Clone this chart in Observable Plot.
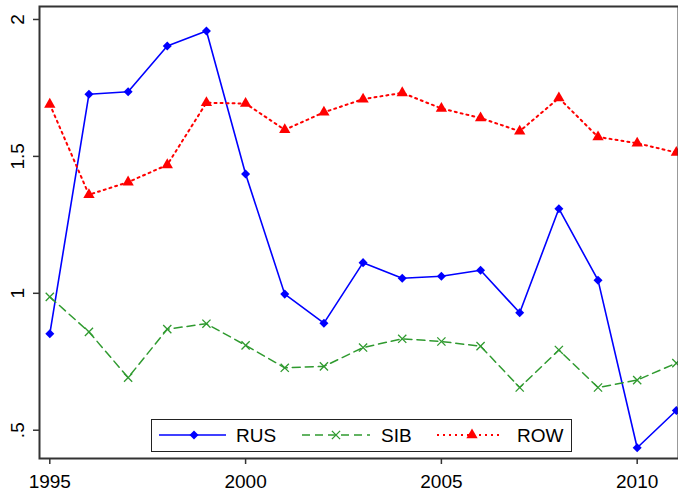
<!DOCTYPE html>
<html>
<head>
<meta charset="utf-8">
<script src="https://cdn.jsdelivr.net/npm/d3@7"></script>
<script src="https://cdn.jsdelivr.net/npm/@observablehq/plot@0.6"></script>
<style>
  html, body { margin: 0; padding: 0; background: #fff; }
  #wrap { position: relative; width: 678px; height: 493px; overflow: hidden; font-family: "Liberation Sans", Arial, sans-serif; }
  #legend { position: absolute; left: 151px; top: 419px; width: 421px; height: 33px; box-sizing: border-box; border: 1.5px solid #222; background: #fff; }
</style>
</head>
<body>
<div id="wrap"><div id="legend"></div></div>
<script>
const years = [1995,1996,1997,1998,1999,2000,2001,2002,2003,2004,2005,2006,2007,2008,2009,2010,2011];
const rus = [0.852,1.727,1.736,1.903,1.958,1.436,0.997,0.891,1.112,1.055,1.062,1.084,0.929,1.309,1.048,0.436,0.572];
const sib = [0.987,0.859,0.692,0.869,0.889,0.810,0.728,0.733,0.802,0.834,0.824,0.807,0.656,0.793,0.656,0.683,0.745];
const row = [1.690,1.360,1.406,1.469,1.696,1.693,1.597,1.661,1.709,1.732,1.675,1.640,1.592,1.713,1.571,1.548,1.514];
const seriesNames = ["RUS", "SIB", "ROW"];
const xTicks = [1995, 2000, 2005, 2010];
const yTicks = [0.5, 1, 1.5, 2];
const yTickLabels = [".5", "1", "1.5", "2"];

const colors = {RUS: "#0000ff", SIB: "#2f9a2f", ROW: "#ff0000"};
const dashes = {RUS: null, SIB: "8,5", ROW: "2,4"};
const widths = {RUS: 1.6, SIB: 1.5, ROW: 2};

// square diamond symbol
const diamondSq = {draw(ctx, size) { const r = Math.sqrt(size / 2); ctx.moveTo(0, -r); ctx.lineTo(r, 0); ctx.lineTo(0, r); ctx.lineTo(-r, 0); ctx.closePath(); }};
const symbols = {RUS: diamondSq, SIB: d3.symbolTimes, ROW: d3.symbolTriangle};
const radii = {RUS: 3.6, SIB: 3.8, ROW: 4.2};

const values = {RUS: rus, SIB: sib, ROW: row};
const data = seriesNames.map(s => years.map((y, i) => ({series: s, year: y, value: values[s][i]})));

const marks = [];
data.forEach(arr => {
  const s = arr[0].series;
  marks.push(Plot.line(arr, {x: "year", y: "value", stroke: colors[s], strokeWidth: widths[s], strokeDasharray: dashes[s]}));
});
data.forEach(arr => {
  const s = arr[0].series;
  if (s === "SIB") {
    marks.push(Plot.dot(arr, {x: "year", y: "value", symbol: symbols[s], r: radii[s], stroke: colors[s], strokeWidth: 1.3}));
  } else {
    marks.push(Plot.dot(arr, {x: "year", y: "value", symbol: symbols[s], r: radii[s], fill: colors[s], stroke: "none"}));
  }
});

const chart = Plot.plot({
  width: 678, height: 493,
  marginLeft: 39, marginRight: 0, marginTop: 6, marginBottom: 35,
  style: {fontFamily: "'Liberation Sans', Arial, sans-serif", fontSize: "19px", background: "#fff", color: "#000"},
  x: {domain: [1994.737, 2011.055]},
  y: {domain: [0.3967, 2.0474]},
  marks: [
    Plot.axisX({ticks: xTicks, tickSize: 6, tickPadding: 10, tickFormat: d => String(d), label: null, fontSize: 19, stroke: "#333", strokeWidth: 1.5}),
    Plot.axisY({ticks: yTicks, tickSize: 6, tickFormat: () => "", label: null, stroke: "#333", strokeWidth: 1.5}),
    Plot.text(yTicks, {y: d => d, text: (d, i) => yTickLabels[i], frameAnchor: "left", dx: -22, rotate: -90, fontSize: 19, textAnchor: "middle", lineAnchor: "middle", fill: "#000"}),
    ...marks,
    Plot.frame({stroke: "#333", strokeWidth: 2})
  ]
});
const wrap = document.getElementById("wrap");
chart.style.position = "absolute";
chart.style.left = "0px";
chart.style.top = "0px";
wrap.insertBefore(chart, wrap.firstChild);

// legend
const lg = d3.select("#legend").append("svg").attr("width", 418).attr("height", 30).style("display", "block")
  .style("font-family", "'Liberation Sans', Arial, sans-serif").style("font-size", "19px");
const cy = 15;
const items = [
  {s: "RUS", x1: 7, x2: 74, mx: 42, tx: 84},
  {s: "SIB", x1: 150, x2: 218, mx: 184, tx: 229},
  {s: "ROW", x1: 285, x2: 350, mx: 320, tx: 365}
];
items.forEach(it => {
  lg.append("line").attr("x1", it.x1).attr("x2", it.x2).attr("y1", cy).attr("y2", cy)
    .attr("stroke", colors[it.s]).attr("stroke-width", widths[it.s])
    .attr("stroke-dasharray", dashes[it.s]);
  const sym = d3.symbol(symbols[it.s], radii[it.s] * radii[it.s] * Math.PI)();
  const p = lg.append("path").attr("d", sym).attr("transform", `translate(${it.mx},${cy})`);
  if (it.s === "SIB") p.attr("fill", "none").attr("stroke", colors[it.s]).attr("stroke-width", 1.3);
  else p.attr("fill", colors[it.s]);
  lg.append("text").attr("x", it.tx).attr("y", cy).attr("dy", "0.35em").text(it.s).attr("fill", "#000");
});
</script>
</body>
</html>
